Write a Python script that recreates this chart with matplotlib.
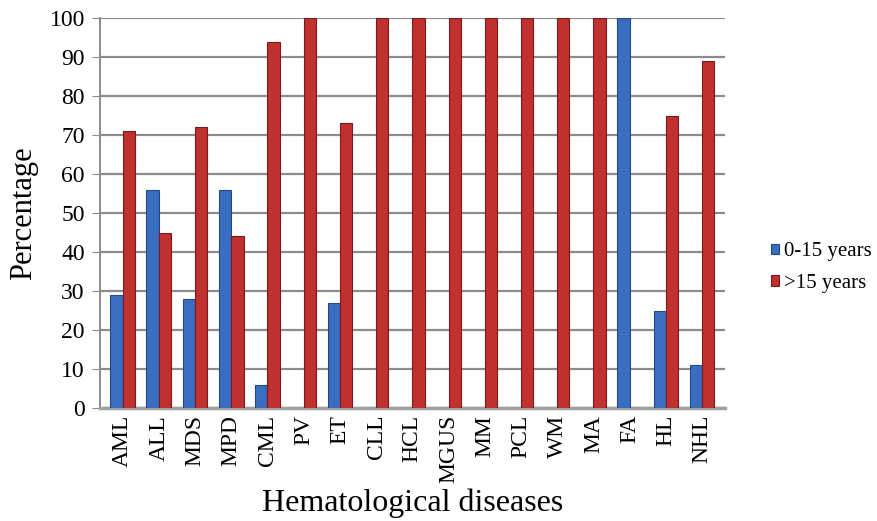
import numpy as np
import matplotlib
matplotlib.use("Agg")
import matplotlib.pyplot as plt

plt.rcParams['font.family'] = ['Liberation Serif', 'DejaVu Serif']

diseases = ["AML", "ALL", "MDS", "MPD", "CML", "PV", "ET", "CLL", "HCL", "MGUS",
            "MM", "PCL", "WM", "MA", "FA", "HL", "NHL"]
young = [29, 56, 28, 56, 6, 0, 27, 0, 0, 0, 0, 0, 0, 0, 100, 25, 11]       # 0-15 years
older = [71, 45, 72, 44, 94, 100, 73, 100, 100, 100, 100, 100, 100, 100, 0, 75, 89]  # >15 years

fig = plt.figure(figsize=(8.78, 5.21), dpi=100)
ax = fig.add_axes([0.114, 0.217, 0.712, 0.748])

x = np.arange(len(diseases))
w = 0.34
ax.bar(x - w / 2, young, w, color="#3a6cc0", edgecolor="#24498a", lw=0.8,
       label="0-15 years", zorder=3)
ax.bar(x + w / 2, older, w, color="#c0302f", edgecolor="#7a1c1c", lw=0.8,
       label=">15 years", zorder=4)

ax.set_xlim(-0.62, 16.64)
ax.set_ylim(0, 100)
ax.set_yticks(range(0, 101, 10))
ax.yaxis.grid(True, color="#8c8c8c", lw=1.6, zorder=0)
ax.set_axisbelow(True)
ax.set_xticks(x)
ax.set_xticklabels(diseases, rotation=90, fontsize=17)
ax.tick_params(axis="y", labelsize=17, length=6, color="#8c8c8c", pad=5)
ax.tick_params(axis="x", length=0, pad=5)
for s in ["top", "right"]:
    ax.spines[s].set_visible(False)
ax.spines["left"].set_color("#8c8c8c")
ax.spines["left"].set_linewidth(1.4)
ax.spines["bottom"].set_color("#a0a0a0")
ax.spines["bottom"].set_linewidth(2.5)

ax.set_ylabel("Percentage", fontsize=22, labelpad=8)
ax.set_xlabel("Hematological diseases", fontsize=23, labelpad=4)

ax.legend(loc="center left", bbox_to_anchor=(1.06, 0.36), frameon=False, fontsize=15,
          handlelength=0.4, handleheight=0.4, handletextpad=0.2, labelspacing=0.6,
          borderaxespad=0)

plt.savefig("out.png", dpi=100)
